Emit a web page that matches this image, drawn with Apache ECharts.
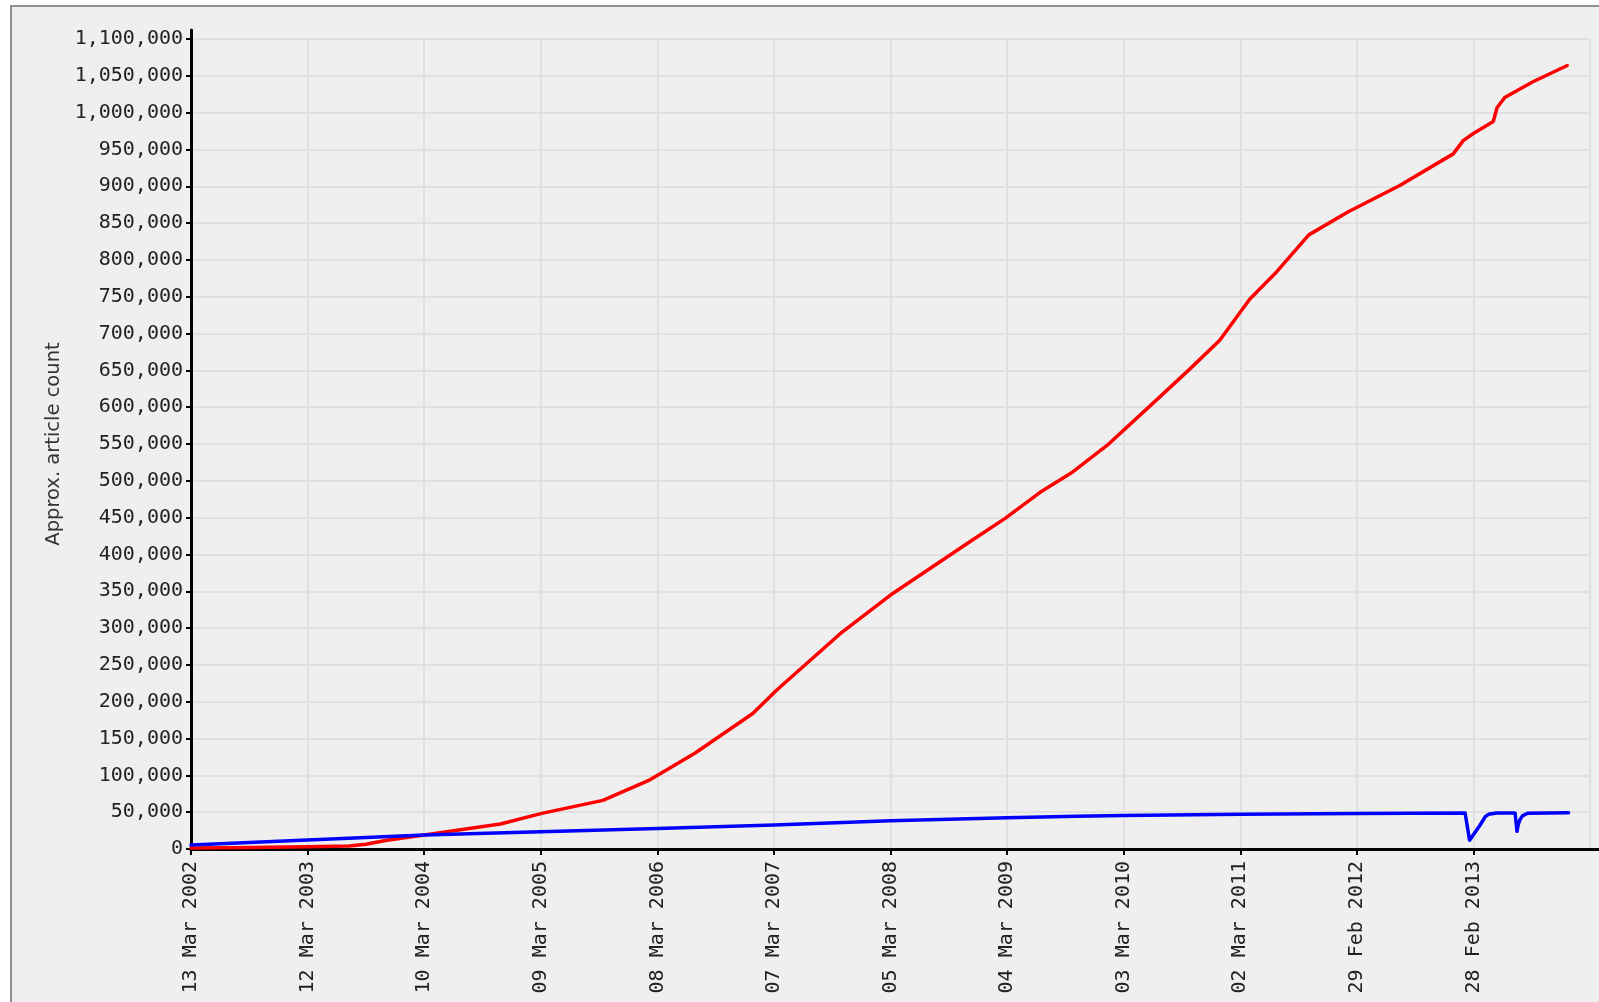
<!DOCTYPE html>
<html><head><meta charset="utf-8">
<script src="https://cdn.jsdelivr.net/npm/echarts@6/dist/echarts.min.js"></script>
<style>
html,body{margin:0;padding:0;width:1599px;height:1002px;overflow:hidden;background:#fff;}
#frame{position:absolute;left:10px;top:5px;width:1700px;height:1100px;background:#efefef;border:2px solid #8f8f8f;}
#chart{position:absolute;left:0;top:0;width:1599px;height:1002px;}
</style></head><body>
<div id="frame"></div><div id="chart"></div>
<script>
// ---- data ----
const redDates = ['2002-03-13','2002-09-15','2003-03-12','2003-07-20','2003-09-10','2003-11-15','2004-03-10','2004-11-03','2005-03-09','2005-09-19','2006-02-13','2006-07-03','2006-12-31','2007-03-16','2007-09-29','2008-03-12','2008-11-17','2009-02-26','2009-06-14','2009-09-25','2010-01-10','2010-06-24','2010-09-26','2010-12-28','2011-04-01','2011-06-24','2011-10-02','2012-02-01','2012-07-12','2012-12-26','2013-01-26','2013-02-28','2013-04-30','2013-05-12','2013-06-06','2013-09-01','2013-12-17'];
const redValues = [1500,2000,3000,4000,6500,12000,19000,34000,48000,66000,94000,130000,184000,216000,292000,347000,420000,449000,484000,512000,548000,614000,652000,691000,747000,784000,834000,865000,901000,944000,962000,972000,988000,1007000,1021000,1042000,1064000];

const blueDates = ['2002-03-13','2003-03-12','2004-03-10','2005-03-09','2006-03-08','2007-03-07','2008-03-05','2009-03-04','2009-10-08','2010-03-03','2011-03-02','2012-02-29','2013-02-01','2013-02-15','2013-03-20','2013-04-05','2013-04-15','2013-05-11','2013-07-07','2013-07-13','2013-07-17','2013-07-22','2013-07-30','2013-08-15','2013-12-21'];
const blueValues = [5400,12200,19000,23500,28000,32600,38500,42300,44600,45500,47300,48300,48800,12000,32600,43900,47100,49000,49000,24000,33000,39500,45000,48500,49300];

const xTickLabels = ['13 Mar 2002','12 Mar 2003','10 Mar 2004','09 Mar 2005','08 Mar 2006','07 Mar 2007','05 Mar 2008','04 Mar 2009','03 Mar 2010','02 Mar 2011','29 Feb 2012','28 Feb 2013',''];

const startDate = '2002-03-13';
const tickDays = 364;     // one tick every 52 weeks
const tickCount = 12;
const yMax = 1100000, yStep = 50000;

// ---- helpers ----
const DAY = 86400000;
const START = Date.parse(startDate + 'T00:00:00Z');
const toDay = s => (Date.parse(s + 'T00:00:00Z') - START) / DAY;
function fmtTick(v){ const i = Math.round(v / tickDays); return xTickLabels[i] || ''; }
function fmtNum(v){ return String(v).replace(/\B(?=(\d{3})+(?!\d))/g, ','); }

const redData = redDates.map((d,i)=>[toDay(d), redValues[i]]);
const blueData = blueDates.map((d,i)=>[toDay(d), blueValues[i]]);

const mono = 'DejaVu Sans Mono';
const chart = echarts.init(document.getElementById('chart'));
chart.setOption({
  animation: false,
  grid: [
    {left:191, right:9, top:39, bottom:153},
    {left:191, right:0, top:30, bottom:153}
  ],
  xAxis: [{
    type:'value', gridIndex:0, min:0, max:tickDays*tickCount, interval:tickDays,
    axisLine:{show:true, lineStyle:{color:'#000', width:3}},
    axisTick:{show:true, length:6, lineStyle:{color:'#000', width:2}},
    axisLabel:{rotate:90, margin:12, fontFamily:mono, fontSize:20, color:'#222',
      formatter: fmtTick, showMinLabel:true, showMaxLabel:false},
    splitLine:{show:true, lineStyle:{color:'#e0e0e0', width:2}}
  },{
    type:'value', gridIndex:1, min:0, max:1,
    axisLine:{show:true, lineStyle:{color:'#000', width:3}},
    axisTick:{show:false}, axisLabel:{show:false}, splitLine:{show:false}
  }],
  yAxis: [{
    type:'value', gridIndex:0, min:0, max:yMax, interval:yStep,
    name:'Approx. article count', nameLocation:'middle', nameGap:127,
    nameTextStyle:{fontFamily:'DejaVu Sans', fontSize:19.5, color:'#333'},
    axisLine:{show:true, lineStyle:{color:'#000', width:3}},
    axisTick:{show:true, length:5, lineStyle:{color:'#000', width:2}},
    axisLabel:{margin:8, fontFamily:mono, fontSize:20, color:'#222', formatter: fmtNum},
    splitLine:{show:true, lineStyle:{color:'#e0e0e0', width:2}}
  },{
    type:'value', gridIndex:1, min:0, max:1,
    axisLine:{show:true, lineStyle:{color:'#000', width:3}},
    axisTick:{show:false}, axisLabel:{show:false}, splitLine:{show:false}
  }],
  series: [
    {type:'line', xAxisIndex:0, yAxisIndex:0, data: redData, showSymbol:false, symbol:'none',
      lineStyle:{color:'#ff0000', width:3.5, join:'round', cap:'round'}, z:3},
    {type:'line', xAxisIndex:0, yAxisIndex:0, data: blueData, showSymbol:false, symbol:'none',
      lineStyle:{color:'#0000ff', width:3.5, join:'round', cap:'round'}, z:4}
  ]
});
</script>
</body></html>
